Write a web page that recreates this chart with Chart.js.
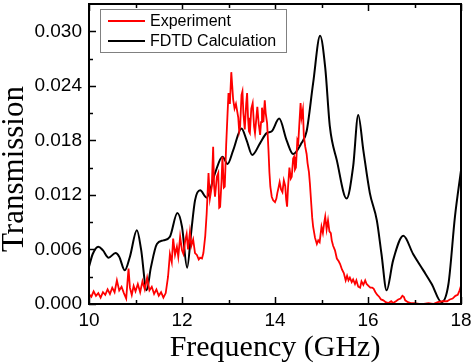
<!DOCTYPE html>
<html>
<head>
<meta charset="utf-8">
<script src="https://cdn.jsdelivr.net/npm/chart.js@4.4.1/dist/chart.umd.min.js"></script>
<style>
  html, body { margin: 0; padding: 0; background: #fff; }
  #wrap { width: 472px; height: 363px; position: relative; }
</style>
</head>
<body>
<div id="wrap"><canvas id="chart"></canvas></div>
<script>
// Experiment (red)
const expFreq = [
  10.00, 10.05, 10.10, 10.15, 10.20, 10.25, 10.30, 10.35, 10.40, 10.45,
  10.50, 10.55, 10.60, 10.65, 10.70, 10.75, 10.80, 10.85, 10.88, 10.92,
  10.96, 11.00, 11.05, 11.10, 11.15, 11.20, 11.25, 11.30, 11.35, 11.40,
  11.45, 11.50, 11.55, 11.60, 11.65, 11.70, 11.74, 11.78, 11.81, 11.85,
  11.89, 11.92, 11.96, 12.00, 12.03, 12.07, 12.10, 12.13, 12.17, 12.20,
  12.24, 12.28, 12.32, 12.36, 12.39, 12.43, 12.46, 12.50, 12.53, 12.57,
  12.60, 12.64, 12.67, 12.69, 12.71, 12.75, 12.78, 12.80, 12.82, 12.85,
  12.87, 12.90, 12.92, 12.95, 12.98, 13.00, 13.03, 13.06, 13.08, 13.10,
  13.13, 13.16, 13.18, 13.21, 13.23, 13.25, 13.28, 13.30, 13.32, 13.35,
  13.38, 13.40, 13.42, 13.44, 13.46, 13.49, 13.52, 13.55, 13.57, 13.60,
  13.62, 13.65, 13.68, 13.70, 13.72, 13.75, 13.78, 13.80, 13.83, 13.86,
  13.88, 13.90, 13.93, 13.96, 14.00, 14.03, 14.05, 14.08, 14.10, 14.13,
  14.16, 14.19, 14.22, 14.24, 14.26, 14.28, 14.31, 14.34, 14.36, 14.39,
  14.41, 14.43, 14.45, 14.48, 14.50, 14.52, 14.55, 14.57, 14.60, 14.62,
  14.65, 14.68, 14.70, 14.73, 14.75, 14.78, 14.80, 14.82, 14.86, 14.90,
  14.93, 14.96, 15.00, 15.03, 15.06, 15.08, 15.11, 15.14, 15.17, 15.20,
  15.22, 15.25, 15.29, 15.33, 15.37, 15.40, 15.44, 15.48, 15.52, 15.55,
  15.58, 15.61, 15.65, 15.68, 15.72, 15.75, 15.79, 15.83, 15.86, 15.90,
  15.94, 15.97, 16.01, 16.05, 16.09, 16.12, 16.16, 16.20, 16.24, 16.28,
  16.33, 16.38, 16.44, 16.50, 16.54, 16.60, 16.65, 16.70, 16.74, 16.77,
  16.80, 16.86, 16.92, 17.00, 17.10, 17.20, 17.30, 17.40, 17.50, 17.60,
  17.70, 17.76, 17.82, 17.88, 17.93, 17.97, 18.00
]
const expTrans = [
  0.0011, 0.0008, 0.0014, 0.0009, 0.0012, 0.0007, 0.0013, 0.0010, 0.0016, 0.0011,
  0.0018, 0.0013, 0.0026, 0.0015, 0.0019, 0.0012, 0.0006, 0.0039, 0.0018, 0.0010,
  0.0020, 0.0014, 0.0022, 0.0013, 0.0025, 0.0016, 0.0029, 0.0015, 0.0019, 0.0011,
  0.0016, 0.0009, 0.0013, 0.0007, 0.0012, 0.0030, 0.0055, 0.0046, 0.0072, 0.0054,
  0.0063, 0.0052, 0.0074, 0.0059, 0.0055, 0.0070, 0.0077, 0.0060, 0.0079, 0.0064,
  0.0071, 0.0056, 0.0054, 0.0049, 0.0051, 0.0050, 0.0056, 0.0075, 0.0099, 0.0144,
  0.0116, 0.0129, 0.0173, 0.0130, 0.0118, 0.0140, 0.0144, 0.0106, 0.0107, 0.0135,
  0.0162, 0.0128, 0.0129, 0.0175, 0.0210, 0.0232, 0.0220, 0.0255, 0.0240, 0.0225,
  0.0215, 0.0220, 0.0214, 0.0205, 0.0190, 0.0195, 0.0230, 0.0234, 0.0210, 0.0192,
  0.0220, 0.0232, 0.0205, 0.0190, 0.0188, 0.0215, 0.0221, 0.0195, 0.0188, 0.0205,
  0.0217, 0.0198, 0.0186, 0.0200, 0.0216, 0.0200, 0.0224, 0.0210, 0.0199, 0.0169,
  0.0145, 0.0129, 0.0118, 0.0114, 0.0112, 0.0116, 0.0122, 0.0129, 0.0134, 0.0126,
  0.0123, 0.0136, 0.0130, 0.0115, 0.0107, 0.0128, 0.0150, 0.0138, 0.0140, 0.0160,
  0.0162, 0.0148, 0.0150, 0.0180, 0.0177, 0.0195, 0.0221, 0.0205, 0.0214, 0.0185,
  0.0173, 0.0165, 0.0155, 0.0145, 0.0133, 0.0110, 0.0095, 0.0085, 0.0073, 0.0066,
  0.0070, 0.0068, 0.0085, 0.0078, 0.0090, 0.0096, 0.0082, 0.0092, 0.0080, 0.0078,
  0.0070, 0.0064, 0.0059, 0.0050, 0.0047, 0.0044, 0.0038, 0.0034, 0.0026, 0.0031,
  0.0026, 0.0029, 0.0024, 0.0027, 0.0022, 0.0026, 0.0019, 0.0018, 0.0025, 0.0021,
  0.0026, 0.0022, 0.0020, 0.0018, 0.0018, 0.0017, 0.0013, 0.0010, 0.0008, 0.0005,
  0.0004, 0.0002, 0.0001, 0.0003, 0.0001, 0.0003, 0.0005, 0.0006, 0.0009, 0.0008,
  0.0004, 0.0002, 0.0001, 0.0001, 0.0000, 0.0000, 0.0001, 0.0000, 0.0002, 0.0003,
  0.0003, 0.0005, 0.0006, 0.0009, 0.0010, 0.0015, 0.0020
]

// FDTD calculation (black)
const fdtdFreq = [
  10.00, 10.08, 10.20, 10.30, 10.42, 10.57, 10.65, 10.77, 10.88, 11.03,
  11.12, 11.24, 11.33, 11.46, 11.60, 11.74, 11.90, 12.00, 12.11, 12.20,
  12.28, 12.39, 12.53, 12.71, 12.87, 12.98, 13.10, 13.28, 13.39, 13.51,
  13.68, 13.82, 13.93, 14.09, 14.25, 14.39, 14.57, 14.68, 14.82, 14.97,
  15.08, 15.18, 15.33, 15.54, 15.68, 15.79, 15.90, 16.04, 16.19, 16.29,
  16.40, 16.54, 16.76, 16.97, 17.19, 17.37, 17.58, 17.73, 17.87, 18.00
]
const fdtdTrans = [
  0.0041, 0.0055, 0.0063, 0.0059, 0.0051, 0.0056, 0.0052, 0.0037, 0.0052, 0.0081,
  0.0060, 0.0015, 0.0040, 0.0066, 0.0070, 0.0074, 0.0100, 0.0085, 0.0040, 0.0080,
  0.0114, 0.0125, 0.0117, 0.0144, 0.0162, 0.0154, 0.0169, 0.0193, 0.0180, 0.0164,
  0.0177, 0.0188, 0.0190, 0.0204, 0.0180, 0.0165, 0.0177, 0.0190, 0.0243, 0.0295,
  0.0260, 0.0195, 0.0158, 0.0116, 0.0151, 0.0208, 0.0169, 0.0122, 0.0092, 0.0055,
  0.0015, 0.0048, 0.0075, 0.0055, 0.0037, 0.0022, 0.0002, 0.0022, 0.0096, 0.0147
]

const xTicks = [10, 11, 12, 13, 14, 15, 16, 17, 18]
const yTicks = [0, 0.003, 0.006, 0.009, 0.012, 0.015, 0.018, 0.021, 0.024, 0.027, 0.030]

const seriesLabels = ['Experiment', 'FDTD Calculation']
const seriesColors = ['#ff0000', '#000000']

const toPoints = (xs, ys) => xs.map((x, i) => ({ x: x, y: ys[i] }))

// keep the plot box where the reference has it
const fixBox = (size) => (scale) => {
  if (scale.isHorizontal()) scale.height = size
  else scale.width = size
  scale.paddingTop = 0
  scale.paddingBottom = 0
  scale.paddingLeft = 0
  scale.paddingRight = 0
}

// frame, inward tick marks, y title and the boxed legend
const decorations = {
  id: 'decorations',
  afterDatasetsDraw(chart) {
    const { ctx, chartArea: a, scales } = chart
    ctx.save()
    ctx.strokeStyle = '#000'
    ctx.lineWidth = 1.5
    xTicks.forEach((v, i) => {
      const px = Math.round(scales.x.getPixelForValue(v)) + 0.5
      const len = i % 2 === 0 ? 7 : 4
      ctx.beginPath()
      ctx.moveTo(px, a.bottom); ctx.lineTo(px, a.bottom - len)
      ctx.moveTo(px, a.top); ctx.lineTo(px, a.top + len)
      ctx.stroke()
    })
    yTicks.forEach((v, i) => {
      const py = Math.round(scales.y.getPixelForValue(v)) + 0.5
      const len = i % 2 === 0 ? 7 : 4
      ctx.beginPath()
      ctx.moveTo(a.left, py); ctx.lineTo(a.left + len, py)
      ctx.stroke()
    })
    ctx.lineWidth = 2
    ctx.strokeRect(a.left, a.top, a.right - a.left, a.bottom - a.top)

    // legend
    ctx.fillStyle = '#fff'
    ctx.fillRect(100.5, 9.5, 186, 43)
    ctx.strokeStyle = '#808080'
    ctx.lineWidth = 1
    ctx.strokeRect(100.5, 9.5, 186, 43)
    ctx.font = '16px "Liberation Sans", Arial, sans-serif'
    ctx.textBaseline = 'middle'
    ctx.textAlign = 'left'
    chart.data.datasets.forEach((ds, i) => {
      const y = 21 + i * 20
      ctx.strokeStyle = ds.borderColor
      ctx.lineWidth = 2
      ctx.beginPath()
      ctx.moveTo(108, y); ctx.lineTo(145, y)
      ctx.stroke()
      ctx.fillStyle = '#000'
      ctx.fillText(ds.label, 150, y + 1)
    })

    // y axis title
    ctx.translate(23, 169)
    ctx.rotate(-Math.PI / 2)
    ctx.font = '31px "Liberation Serif", "Times New Roman", serif'
    ctx.textAlign = 'center'
    ctx.textBaseline = 'alphabetic'
    ctx.fillStyle = '#000'
    ctx.fillText('Transmission', 0, 0)
    ctx.restore()
  }
}

new Chart(document.getElementById('chart'), {
  type: 'line',
  data: {
    datasets: [
      {
        label: seriesLabels[0],
        data: toPoints(expFreq, expTrans),
        borderColor: seriesColors[0],
        borderWidth: 1.8,
        pointRadius: 0,
        tension: 0
      },
      {
        label: seriesLabels[1],
        data: toPoints(fdtdFreq, fdtdTrans),
        borderColor: seriesColors[1],
        borderWidth: 2,
        pointRadius: 0,
        cubicInterpolationMode: 'monotone'
      }
    ]
  },
  options: {
    responsive: true,
    maintainAspectRatio: false,
    animation: false,
    layout: { padding: { top: 4, right: 11, left: 0, bottom: 0 } },
    plugins: {
      legend: { display: false },
      tooltip: { enabled: false }
    },
    scales: {
      x: {
        type: 'linear',
        min: 10,
        max: 18,
        afterBuildTicks: (scale) => { scale.ticks = xTicks.map(v => ({ value: v })) },
        afterFit: fixBox(59),
        grid: { display: false, drawTicks: false },
        border: { display: false },
        ticks: {
          padding: 5,
          color: '#000',
          font: { family: '"Liberation Sans", Arial, sans-serif', size: 19 },
          maxRotation: 0,
          callback: (v) => (v % 2 === 0 ? String(v) : '')
        },
        title: {
          display: true,
          text: 'Frequency (GHz)',
          color: '#000',
          padding: 0,
          font: { family: '"Liberation Serif", "Times New Roman", serif', size: 30, lineHeight: 1.0 }
        }
      },
      y: {
        min: 0,
        max: 0.033,
        afterBuildTicks: (scale) => { scale.ticks = yTicks.map(v => ({ value: v })) },
        afterFit: fixBox(89),
        grid: { display: false, drawTicks: false },
        border: { display: false },
        ticks: {
          padding: 7,
          color: '#000',
          font: { family: '"Liberation Sans", Arial, sans-serif', size: 19 },
          callback: (v, i) => (i % 2 === 0 ? v.toFixed(3) : '')
        }
      }
    }
  },
  plugins: [decorations]
})
</script>
</body>
</html>
